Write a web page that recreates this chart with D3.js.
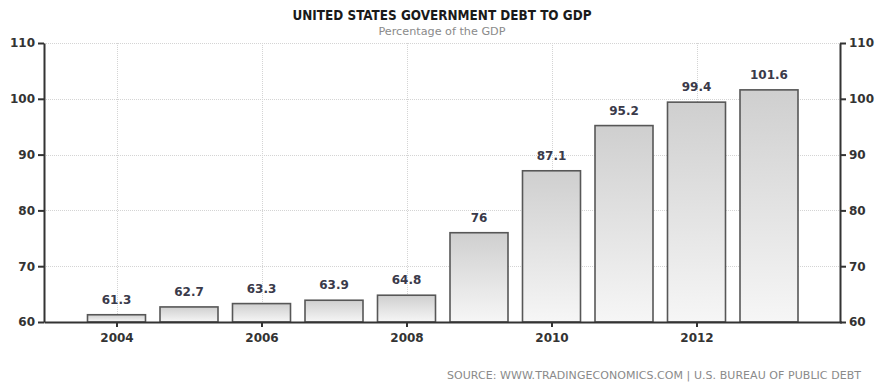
<!DOCTYPE html>
<html>
<head>
<meta charset="utf-8">
<script src="https://cdn.jsdelivr.net/npm/d3@7"></script>
<style>
  html, body { margin: 0; padding: 0; background: #fff; }
  svg { display: block; }
</style>
</head>
<body>
<svg id="chart" width="878" height="385"></svg>
<script>
// US government debt as a percentage of GDP, by year
const years = [2004, 2005, 2006, 2007, 2008, 2009, 2010, 2011, 2012, 2013];
const debtToGdp = [61.3, 62.7, 63.3, 63.9, 64.8, 76, 87.1, 95.2, 99.4, 101.6];
const yTicks = [60, 70, 80, 90, 100, 110];
const xTicks = [2004, 2006, 2008, 2010, 2012];

const titleText = "UNITED STATES GOVERNMENT DEBT TO GDP";
const subtitleText = "Percentage of the GDP";
const sourceText = "SOURCE: WWW.TRADINGECONOMICS.COM | U.S. BUREAU OF PUBLIC DEBT";

(function draw() {
  const svg = d3.select("#chart");
  const plotLeft = 44, plotRight = 840, plotTop = 43, plotBottom = 322;

  const x = d3.scaleLinear().domain([2003, 2014]).range([plotLeft, plotRight + 1.5]);
  const y = d3.scaleLinear().domain([60, 110]).range([plotBottom, plotTop]);
  const barW = 0.8 * (x(2005) - x(2004));

  const axisFont = "'DejaVu Sans', Verdana, sans-serif";
  const titleFont = "'DejaVu Sans Condensed', 'DejaVu Sans', sans-serif";

  // bar gradient: darker grey at top fading to near white at the base
  const defs = svg.append("defs");
  const grad = defs.append("linearGradient")
    .attr("id", "barFill").attr("x1", 0).attr("y1", 0).attr("x2", 0).attr("y2", 1);
  grad.append("stop").attr("offset", "0%").attr("stop-color", "#cfcfcf");
  grad.append("stop").attr("offset", "100%").attr("stop-color", "#f6f6f6");

  // grid
  const grid = svg.append("g").attr("stroke", "#d4d4d4").attr("stroke-width", 1)
    .attr("stroke-dasharray", "1,1");
  grid.selectAll("line.h").data(yTicks.filter(t => t > 60)).join("line")
    .attr("x1", plotLeft).attr("x2", plotRight)
    .attr("y1", d => Math.round(y(d)) + 0.5).attr("y2", d => Math.round(y(d)) + 0.5);
  grid.selectAll("line.v").data(xTicks).join("line")
    .attr("x1", d => Math.round(x(d)) + 0.5).attr("x2", d => Math.round(x(d)) + 0.5)
    .attr("y1", plotTop).attr("y2", plotBottom);

  // bars
  const data = years.map((yr, i) => ({ year: yr, value: debtToGdp[i] }));
  svg.append("g").selectAll("rect").data(data).join("rect")
    .attr("x", d => x(d.year) - barW / 2)
    .attr("y", d => y(d.value))
    .attr("width", barW)
    .attr("height", d => y(60) - y(d.value))
    .attr("fill", "url(#barFill)")
    .attr("stroke", "#575757")
    .attr("stroke-width", 1.6);

  // value labels
  svg.append("g").selectAll("text").data(data).join("text")
    .attr("x", d => x(d.year))
    .attr("y", d => y(d.value) - 11)
    .attr("text-anchor", "middle")
    .attr("font-family", axisFont)
    .attr("font-weight", "bold")
    .attr("font-size", 12)
    .attr("fill", "#3a3a4a")
    .text(d => String(d.value));

  // axes
  function styleAxis(g) {
    g.select(".domain").attr("stroke", "#333").attr("stroke-width", 2);
    g.selectAll(".tick line").attr("stroke", "#333").attr("stroke-width", 2);
    g.selectAll(".tick text")
      .attr("font-family", axisFont).attr("font-weight", "bold")
      .attr("font-size", 12).attr("fill", "#333");
  }
  svg.append("g").attr("transform", `translate(${plotLeft},0)`)
    .call(d3.axisLeft(y).tickValues(yTicks).tickSize(6).tickSizeOuter(0).tickPadding(3))
    .call(styleAxis);
  svg.append("g").attr("transform", `translate(${plotRight},0)`)
    .call(d3.axisRight(y).tickValues(yTicks).tickSize(6).tickSizeOuter(0).tickPadding(3))
    .call(styleAxis);
  svg.append("g").attr("transform", `translate(0,${plotBottom})`)
    .call(d3.axisBottom(x).tickValues(xTicks).tickFormat(d3.format("d")).tickSize(5).tickSizeOuter(0).tickPadding(6))
    .call(styleAxis);

  // titles
  svg.append("text")
    .attr("x", 442).attr("y", 20)
    .attr("text-anchor", "middle")
    .attr("font-family", titleFont).attr("font-weight", "bold").attr("font-size", 14)
    .attr("fill", "#1a1a1a")
    .attr("textLength", 299).attr("lengthAdjust", "spacingAndGlyphs")
    .text(titleText);
  svg.append("text")
    .attr("x", 442).attr("y", 35)
    .attr("text-anchor", "middle")
    .attr("font-family", axisFont).attr("font-size", 11)
    .attr("fill", "#8a8a8a")
    .attr("textLength", 127).attr("lengthAdjust", "spacingAndGlyphs")
    .text(subtitleText);

  // source line
  svg.append("text")
    .attr("x", 861).attr("y", 379)
    .attr("text-anchor", "end")
    .attr("font-family", axisFont).attr("font-size", 11)
    .attr("fill", "#8a8a8a")
    .attr("textLength", 414).attr("lengthAdjust", "spacing")
    .text(sourceText);
})();
</script>
</body>
</html>
